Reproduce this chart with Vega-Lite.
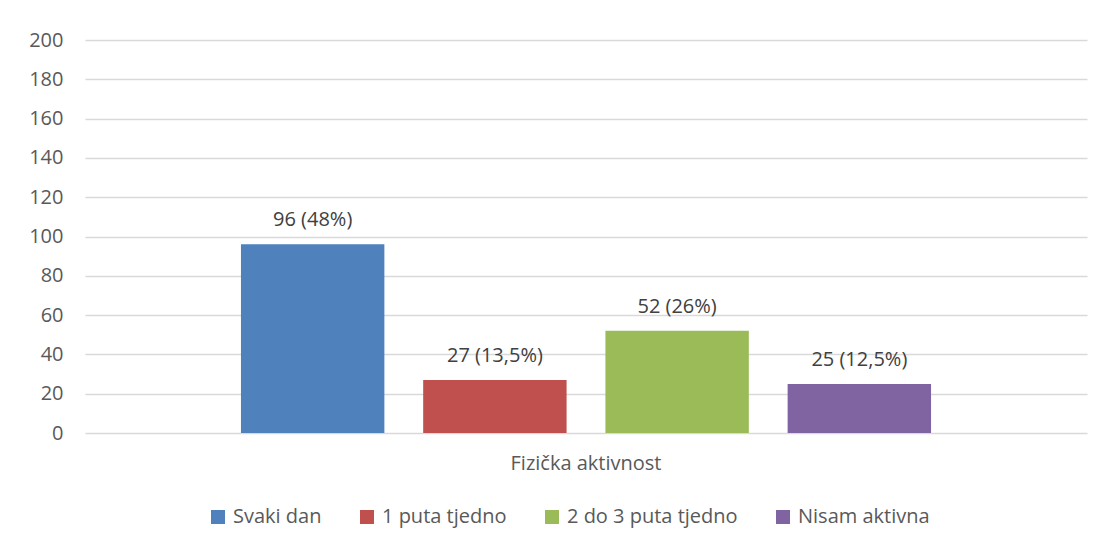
{
  "$schema": "https://vega.github.io/schema/vega-lite/v6.json",
  "width": 1002,
  "height": 393,
  "autosize": {"type": "none"},
  "padding": {"left": 85, "top": 40, "right": 18, "bottom": 116},
  "background": "white",
  "config": {
    "font": "Open Sans",
    "view": {"stroke": null},
    "axis": {"labelColor": "#595959", "labelFontSize": 20, "labelFont": "Open Sans"},
    "legend": {"labelColor": "#595959", "labelFontSize": 20, "labelFont": "Open Sans", "labelLimit": 400}
  },
  "data": {
    "values": [
      {"kategorija": "Fizička aktivnost", "odgovor": "Svaki dan", "broj": 96, "oznaka": "96 (48%)"},
      {"kategorija": "Fizička aktivnost", "odgovor": "1 puta tjedno", "broj": 27, "oznaka": "27 (13,5%)"},
      {"kategorija": "Fizička aktivnost", "odgovor": "2 do 3 puta tjedno", "broj": 52, "oznaka": "52 (26%)"},
      {"kategorija": "Fizička aktivnost", "odgovor": "Nisam aktivna", "broj": 25, "oznaka": "25 (12,5%)"}
    ]
  },
  "encoding": {
    "x": {
      "field": "kategorija",
      "type": "nominal",
      "scale": {"paddingInner": 0, "paddingOuter": 0.226},
      "axis": {"title": null, "labelAngle": 0, "domain": false, "ticks": false, "labelPadding": 20, "labelBaseline": "top"}
    },
    "xOffset": {
      "field": "odgovor",
      "type": "nominal",
      "scale": {"domain": ["Svaki dan", "1 puta tjedno", "2 do 3 puta tjedno", "Nisam aktivna"], "paddingInner": 0.213, "paddingOuter": 0}
    },
    "y": {
      "field": "broj",
      "type": "quantitative",
      "scale": {"domain": [0, 200]},
      "axis": {
        "title": null,
        "values": [0, 20, 40, 60, 80, 100, 120, 140, 160, 180, 200],
        "domain": false,
        "ticks": false,
        "labelPadding": 22,
        "gridColor": "#d9d9d9",
        "gridWidth": 1.3
      }
    }
  },
  "layer": [
    {
      "mark": {"type": "bar"},
      "encoding": {
        "color": {
          "field": "odgovor",
          "type": "nominal",
          "scale": {
            "domain": ["Svaki dan", "1 puta tjedno", "2 do 3 puta tjedno", "Nisam aktivna"],
            "range": ["#4F81BD", "#C0504D", "#9BBB59", "#8064A2"]
          },
          "legend": {
            "title": null,
            "orient": "none",
            "direction": "horizontal",
            "legendX": 123,
            "legendY": 467,
            "symbolType": "square",
            "symbolSize": 196,
            "symbolStrokeWidth": 0,
            "labelOffset": 5,
            "columnPadding": 35,
            "labelLimit": 400
          }
        }
      }
    },
    {
      "mark": {"type": "text", "baseline": "alphabetic", "dy": -18, "fontSize": 20, "color": "#404040"},
      "encoding": {"text": {"field": "oznaka"}}
    }
  ]
}
